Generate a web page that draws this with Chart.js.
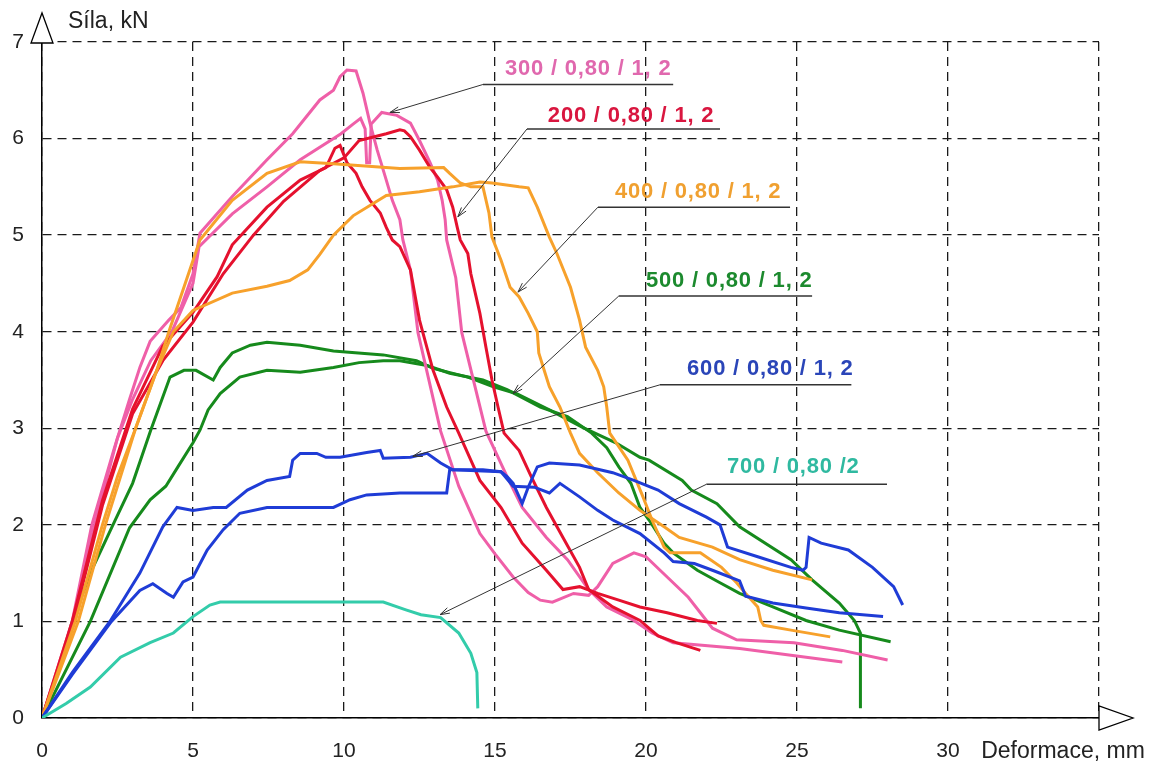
<!DOCTYPE html>
<html>
<head>
<meta charset="utf-8">
<script src="https://cdn.jsdelivr.net/npm/chart.js@4.4.1/dist/chart.umd.min.js"></script>
<style>
  html, body { margin: 0; padding: 0; background: #fff; }
  #wrap { width: 1158px; height: 767px; }
</style>
</head>
<body>
<div id="wrap"><canvas id="myChart" width="1158" height="767"></canvas></div>
<script>
// tick labels
const xTicks = [0, 5, 10, 15, 20, 25, 30];
const yTicks = [0, 1, 2, 3, 4, 5, 6, 7];

// 300 / 0,80 / 1, 2  (pink) - two specimens
const p1X = [0, 0.5, 1.0, 1.65, 2.4, 2.9, 3.24, 3.58, 4.2, 4.6, 5.0, 5.23, 6.3, 7.45, 8.3, 9.2, 9.65, 9.87, 10.1, 10.4, 10.63, 10.86, 11.1, 11.4, 11.6, 11.85, 11.95, 12.2, 12.45, 13.2, 13.8, 14.5, 15.0, 15.6, 16.1, 16.5, 16.9, 17.6, 18.1, 18.4, 18.9, 19.6, 20.0, 20.7, 21.4, 21.8, 22.2, 23.0, 24.9, 26.5, 28.0];
const p1Y = [0, 0.5, 1.0, 2.0, 2.8, 3.3, 3.63, 3.9, 4.12, 4.25, 4.6, 5.02, 5.4, 5.78, 6.05, 6.4, 6.5, 6.64, 6.71, 6.7, 6.47, 6.16, 5.88, 5.57, 5.36, 5.16, 4.95, 4.64, 3.99, 2.97, 2.4, 1.91, 1.7, 1.46, 1.3, 1.22, 1.2, 1.29, 1.27, 1.36, 1.6, 1.71, 1.67, 1.46, 1.25, 1.09, 0.93, 0.81, 0.78, 0.7, 0.6];
const p2X = [0, 1.0, 1.7, 2.5, 3.0, 3.6, 4.3, 5.0, 5.2, 6.3, 7.45, 8.55, 9.9, 10.3, 10.55, 10.7, 10.75, 10.85, 10.9, 11.25, 11.75, 12.2, 12.5, 12.85, 13.1, 13.25, 13.35, 13.4, 13.7, 13.9, 14.7, 15.4, 15.9, 16.7, 17.4, 18.1, 18.7, 19.6, 20.2, 20.9, 23.1, 26.5];
const p2Y = [0, 0.95, 1.95, 2.9, 3.3, 3.7, 4.0, 4.5, 4.88, 5.22, 5.5, 5.78, 6.05, 6.15, 6.21, 6.1, 5.75, 5.75, 6.15, 6.27, 6.24, 6.16, 5.98, 5.75, 5.57, 5.36, 5.16, 4.95, 4.56, 3.99, 2.97, 2.5, 2.18, 1.87, 1.64, 1.33, 1.15, 1.01, 0.88, 0.78, 0.72, 0.58];

// 200 / 0,80 / 1, 2  (red)
const r1X = [0, 1.0, 2.0, 3.0, 4.0, 5.0, 5.8, 6.3, 7.45, 8.55, 9.4, 9.7, 9.87, 10.1, 10.4, 10.6, 10.86, 11.2, 11.4, 11.6, 11.85, 12.2, 12.5, 12.95, 13.4, 13.8, 14.5, 15.2, 15.9, 16.7, 17.25, 17.8, 18.4, 19.1, 19.8, 20.7, 21.7, 22.35];
const r1Y = [0, 1.0, 2.25, 3.2, 3.85, 4.2, 4.57, 4.9, 5.29, 5.57, 5.7, 5.9, 5.93, 5.75, 5.64, 5.5, 5.36, 5.23, 5.08, 4.95, 4.88, 4.64, 4.12, 3.6, 3.22, 2.95, 2.46, 2.18, 1.81, 1.53, 1.33, 1.36, 1.29, 1.22, 1.15, 1.09, 1.01, 0.98];
const r2X = [0, 1.0, 2.0, 3.0, 4.0, 5.0, 6.0, 7.0, 8.0, 9.2, 10.0, 10.5, 11.4, 11.85, 12.0, 12.2, 12.5, 12.85, 13.1, 13.4, 13.6, 13.75, 13.85, 14.1, 14.2, 14.5, 14.7, 14.9, 15.1, 15.3, 15.8, 16.2, 16.7, 17.25, 17.8, 18.1, 18.9, 19.8, 20.4, 21.0, 21.8];
const r2Y = [0, 0.95, 2.2, 3.15, 3.7, 4.1, 4.6, 5.0, 5.35, 5.67, 5.8, 5.98, 6.05, 6.09, 6.08, 6.02, 5.88, 5.7, 5.6, 5.47, 5.29, 5.08, 4.95, 4.81, 4.6, 4.19, 3.84, 3.5, 3.22, 2.95, 2.77, 2.5, 2.18, 1.87, 1.56, 1.33, 1.15, 1.01, 0.85, 0.78, 0.7];

// 400 / 0,80 / 1, 2  (orange)
const o1X = [0, 1.1, 2.0, 2.5, 3.1, 3.8, 4.2, 5.23, 6.3, 7.45, 8.55, 9.65, 11.85, 13.3, 13.5, 13.85, 14.2, 14.6, 14.8, 14.9, 15.2, 15.5, 15.8, 16.1, 16.4, 16.45, 16.6, 16.8, 17.15, 17.5, 17.8, 18.4, 19.1, 19.8, 20.6, 21.1, 22.2, 23.1, 24.2, 25.5];
const o1Y = [0, 1.0, 2.0, 2.5, 3.0, 3.6, 4.0, 4.95, 5.36, 5.64, 5.76, 5.74, 5.69, 5.7, 5.64, 5.54, 5.5, 5.5, 5.23, 4.98, 4.74, 4.46, 4.36, 4.19, 4.0, 3.78, 3.63, 3.43, 3.22, 2.95, 2.74, 2.54, 2.33, 2.15, 1.98, 1.87, 1.77, 1.64, 1.53, 1.43];
const o2X = [0, 1.2, 2.1, 3.1, 3.8, 4.35, 5.0, 6.3, 7.45, 8.2, 8.8, 9.2, 9.65, 10.3, 11.4, 12.5, 13.6, 14.5, 14.9, 15.8, 16.1, 16.4, 16.8, 17.05, 17.5, 17.8, 18.0, 18.4, 18.6, 18.7, 18.8, 19.4, 19.9, 20.2, 20.6, 20.8, 21.8, 22.5, 23.0, 23.3, 23.7, 23.8, 23.9, 24.8, 26.1];
const o2Y = [0, 1.0, 2.0, 3.0, 3.6, 4.0, 4.22, 4.4, 4.47, 4.53, 4.64, 4.8, 5.0, 5.2, 5.41, 5.45, 5.5, 5.55, 5.54, 5.5, 5.49, 5.29, 4.98, 4.81, 4.46, 4.12, 3.84, 3.6, 3.43, 3.22, 2.95, 2.67, 2.29, 2.05, 1.77, 1.71, 1.71, 1.56, 1.4, 1.29, 1.15, 1.01, 0.96, 0.91, 0.84];

// 500 / 0,80 / 1, 2  (green)
const g1X = [0, 0.5, 1.0, 1.6, 2.35, 3.0, 3.6, 4.24, 4.7, 5.1, 5.67, 5.9, 6.3, 6.9, 7.45, 8.55, 9.65, 11.3, 12.4, 12.95, 14.1, 14.95, 15.7, 16.8, 17.9, 19.0, 19.8, 20.1, 21.2, 21.5, 22.35, 23.1, 24.8, 25.5, 26.4, 26.9, 27.1, 27.1];
const g1Y = [0, 0.45, 1.0, 1.5, 2.0, 2.43, 2.98, 3.53, 3.6, 3.6, 3.5, 3.63, 3.78, 3.86, 3.89, 3.86, 3.8, 3.76, 3.7, 3.62, 3.53, 3.43, 3.36, 3.19, 3.01, 2.85, 2.7, 2.67, 2.46, 2.36, 2.22, 1.98, 1.64, 1.43, 1.19, 1.01, 0.88, 0.1];
const g2X = [0, 1.6, 2.9, 3.58, 4.1, 4.5, 5.0, 5.23, 5.5, 5.9, 6.55, 7.45, 8.55, 9.65, 10.5, 11.3, 11.85, 12.75, 13.5, 14.6, 15.4, 16.5, 17.4, 18.2, 18.7, 19.1, 19.5, 19.8, 20.1, 20.6, 20.9, 21.7, 22.45, 23.1, 24.2, 25.3, 26.4, 28.1];
const g2Y = [0, 1.0, 1.97, 2.26, 2.4, 2.6, 2.85, 2.98, 3.19, 3.36, 3.53, 3.6, 3.58, 3.63, 3.68, 3.7, 3.7, 3.65, 3.57, 3.5, 3.4, 3.22, 3.12, 2.95, 2.8, 2.6, 2.43, 2.18, 2.05, 1.81, 1.71, 1.53, 1.4, 1.29, 1.15, 1.01, 0.91, 0.79];

// 600 / 0,80 / 1, 2  (blue)
const b1X = [0, 1.0, 2.25, 3.24, 4.0, 4.47, 5.0, 5.67, 6.1, 6.8, 7.45, 8.2, 8.3, 8.55, 9.1, 9.4, 9.87, 10.75, 11.2, 11.3, 12.2, 12.75, 13.2, 13.6, 15.2, 15.6, 16.3, 16.8, 17.15, 17.8, 18.4, 18.9, 19.8, 20.6, 20.9, 21.6, 22.2, 23.1, 23.3, 24.2, 25.3, 26.4, 27.85];
const b1Y = [0, 0.47, 1.0, 1.5, 1.98, 2.18, 2.15, 2.18, 2.18, 2.36, 2.46, 2.5, 2.67, 2.74, 2.74, 2.7, 2.7, 2.75, 2.77, 2.69, 2.7, 2.74, 2.64, 2.57, 2.55, 2.4, 2.39, 2.33, 2.43, 2.29, 2.15, 2.05, 1.91, 1.71, 1.62, 1.6, 1.53, 1.42, 1.26, 1.19, 1.14, 1.09, 1.05];
const b2X = [0, 1.0, 2.3, 3.24, 3.67, 4.14, 4.35, 4.67, 5.0, 5.47, 6.0, 6.55, 7.45, 9.65, 10.2, 10.75, 11.85, 13.4, 13.5, 14.6, 15.2, 15.4, 15.6, 15.9, 16.1, 16.4, 16.8, 17.8, 18.9, 19.6, 20.4, 21.1, 22.0, 22.45, 22.7, 23.7, 24.8, 25.2, 25.3, 25.4, 25.8, 26.7, 27.5, 28.2, 28.5];
const b2Y = [0, 0.45, 1.0, 1.32, 1.39, 1.29, 1.25, 1.41, 1.46, 1.74, 1.95, 2.12, 2.18, 2.18, 2.26, 2.31, 2.33, 2.33, 2.57, 2.57, 2.55, 2.5, 2.43, 2.22, 2.39, 2.6, 2.64, 2.62, 2.54, 2.46, 2.36, 2.22, 2.08, 2.0, 1.77, 1.67, 1.56, 1.53, 1.56, 1.87, 1.81, 1.74, 1.56, 1.36, 1.17];

// 700 / 0,80 /2  (teal)
const t1X = [0, 0.8, 1.6, 2.6, 3.58, 4.35, 5.0, 5.56, 5.9, 8.0, 10.0, 11.3, 12.05, 12.55, 13.2, 13.8, 14.2, 14.4, 14.43];
const t1Y = [0, 0.15, 0.32, 0.63, 0.78, 0.88, 1.05, 1.17, 1.2, 1.2, 1.2, 1.2, 1.12, 1.07, 1.04, 0.88, 0.67, 0.47, 0.1];

const seriesNames = ['300 / 0,80 / 1, 2', '200 / 0,80 / 1, 2', '400 / 0,80 / 1, 2', '500 / 0,80 / 1, 2', '600 / 0,80 / 1, 2', '700 / 0,80 /2'];

function pts(xs, ys) {
  return xs.map((x, i) => ({ x: x, y: ys[i] }));
}

const lineColors = ['#ef5fa8', '#e5112e', '#f7a12b', '#168a1c', '#1f3cd6', '#33ccaa'];
const textColors = ['#e068ae', '#d9163f', '#f0a030', '#1c8a2e', '#2a45b8', '#2fb9a0'];

const curves = [
  [t1X, t1Y, 5],
  [b1X, b1Y, 4], [b2X, b2Y, 4],
  [o1X, o1Y, 2], [o2X, o2Y, 2],
  [r1X, r1Y, 1], [r2X, r2Y, 1],
  [p1X, p1Y, 0], [p2X, p2Y, 0],
  [g1X, g1Y, 3], [g2X, g2Y, 3]
];

const datasets = curves.map(c => ({
  label: seriesNames[c[2]],
  data: pts(c[0], c[1]),
  borderColor: lineColors[c[2]],
  borderWidth: 3,
  pointRadius: 0,
  showLine: true,
  tension: 0,
  fill: false
}));

// labels with leader lines, positions in data units
const callouts = [
  { s: 0, tx: 15.33, ty: 6.72, l1: 14.6, l2: 20.9, ly: 6.56, ax: 11.52, ay: 6.27 },
  { s: 1, tx: 16.75, ty: 6.23, l1: 16.06, l2: 22.45, ly: 6.10, ax: 13.77, ay: 5.19 },
  { s: 2, tx: 18.97, ty: 5.45, l1: 18.41, l2: 24.77, ly: 5.29, ax: 15.76, ay: 4.41 },
  { s: 3, tx: 20.0, ty: 4.53, l1: 19.1, l2: 25.5, ly: 4.37, ax: 15.6, ay: 3.36 },
  { s: 4, tx: 21.36, ty: 3.61, l1: 20.46, l2: 26.8, ly: 3.45, ax: 12.28, ay: 2.71 },
  { s: 5, tx: 22.68, ty: 2.60, l1: 22.0, l2: 27.98, ly: 2.42, ax: 13.18, ay: 1.07 }
];

const decor = {
  id: 'decor',
  afterDraw(chart) {
    const ctx = chart.ctx;
    const sx = chart.scales.x, sy = chart.scales.y;
    const px = v => sx.getPixelForValue(v);
    const py = v => sy.getPixelForValue(v);
    ctx.save();

    // tick labels
    ctx.fillStyle = '#222';
    ctx.font = '21px "Liberation Sans", Arial, sans-serif';
    ctx.textAlign = 'center';
    ctx.textBaseline = 'middle';
    yTicks.forEach(v => ctx.fillText(String(v), px(0) - 24, py(v)));
    xTicks.forEach(v => ctx.fillText(String(v), px(v), py(0) + 33));

    // axis arrows (hollow triangles)
    ctx.strokeStyle = '#000';
    ctx.lineWidth = 1.3;
    ctx.fillStyle = '#fff';
    const x0 = px(0), yTop = py(7);
    ctx.beginPath();
    ctx.moveTo(x0 - 11, yTop + 1);
    ctx.lineTo(x0 + 11, yTop + 1);
    ctx.lineTo(x0, yTop - 29);
    ctx.closePath();
    ctx.fill(); ctx.stroke();
    const xEnd = px(35), y0 = py(0);
    ctx.beginPath();
    ctx.moveTo(xEnd, y0 - 12);
    ctx.lineTo(xEnd, y0 + 12);
    ctx.lineTo(xEnd + 34, y0);
    ctx.closePath();
    ctx.fill(); ctx.stroke();

    // axis titles
    ctx.fillStyle = '#222';
    ctx.font = '23px "Liberation Sans", Arial, sans-serif';
    ctx.textAlign = 'left';
    ctx.fillText('Síla, kN', x0 + 26, yTop - 20);
    ctx.fillText('Deformace, mm', px(31.1), py(0) + 34);

    // callouts
    callouts.forEach(c => {
      const lx1 = px(c.l1), lx2 = px(c.l2), ly = py(c.ly);
      const ax = px(c.ax), ay = py(c.ay);
      ctx.strokeStyle = '#333';
      ctx.lineWidth = 1.5;
      ctx.beginPath();
      ctx.moveTo(lx1, ly); ctx.lineTo(lx2, ly);
      ctx.stroke();
      ctx.lineWidth = 1;
      ctx.beginPath();
      ctx.moveTo(lx1, ly); ctx.lineTo(ax, ay);
      ctx.stroke();
      const ang = Math.atan2(ay - ly, ax - lx1);
      ctx.beginPath();
      ctx.moveTo(ax - 10 * Math.cos(ang - 0.3), ay - 10 * Math.sin(ang - 0.3));
      ctx.lineTo(ax, ay);
      ctx.lineTo(ax - 10 * Math.cos(ang + 0.3), ay - 10 * Math.sin(ang + 0.3));
      ctx.stroke();

      ctx.fillStyle = textColors[c.s];
      ctx.font = 'bold 22px "Liberation Sans", Arial, sans-serif';
      ctx.letterSpacing = '0.8px';
      ctx.textAlign = 'left';
      ctx.textBaseline = 'middle';
      ctx.fillText(seriesNames[c.s], px(c.tx), py(c.ty));
      ctx.letterSpacing = '0px';
    });
    ctx.restore();
  }
};

new Chart(document.getElementById('myChart'), {
  type: 'scatter',
  data: { datasets: datasets },
  options: {
    responsive: false,
    animation: false,
    layout: { padding: { left: 42, top: 42, right: 59, bottom: 49 } },
    plugins: {
      legend: { display: false },
      tooltip: { enabled: false }
    },
    scales: {
      x: {
        type: 'linear', min: 0, max: 35,
        ticks: { display: false, stepSize: 5 },
        grid: { color: '#1a1a1a', lineWidth: 1.3, drawTicks: false },
        border: { display: true, color: '#000', width: 1.5, dash: [9, 6] }
      },
      y: {
        type: 'linear', min: 0, max: 7,
        ticks: { display: false, stepSize: 1 },
        grid: { color: '#1a1a1a', lineWidth: 1.3, drawTicks: false },
        border: { display: true, color: '#000', width: 1.5, dash: [9, 6] }
      }
    }
  },
  plugins: [decor]
});
</script>
</body>
</html>
